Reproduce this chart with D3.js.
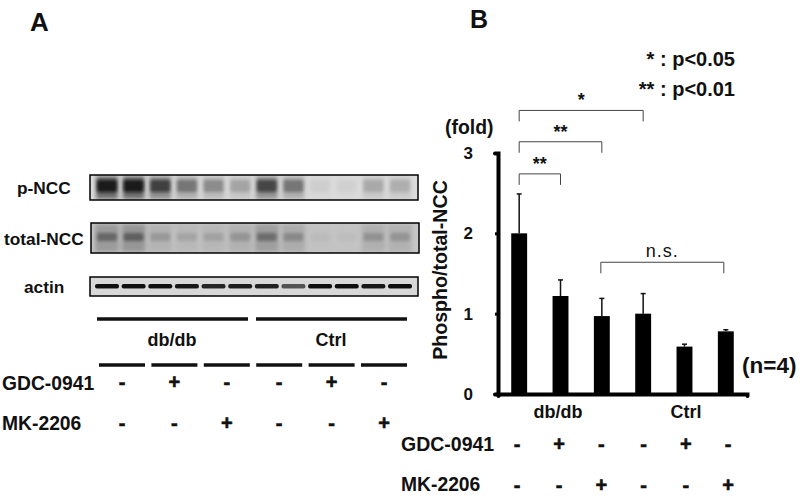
<!DOCTYPE html>
<html>
<head>
<meta charset="utf-8">
<script src="https://cdnjs.cloudflare.com/ajax/libs/d3/7.8.5/d3.min.js"></script>
<style>
  html, body { margin: 0; padding: 0; background: #fff; }
  text { font-family: "Liberation Sans", Arial, sans-serif; font-weight: bold; fill: #111; }
</style>
</head>
<body>
<div id="chart"></div>
<script>
// bar chart values
var groups = ['db1', 'db2', 'db3', 'ctrl1', 'ctrl2', 'ctrl3'];
var means = [2.0, 1.22, 0.97, 1.0, 0.59, 0.78];
var errorTops = [2.49, 1.42, 1.19, 1.25, 0.62, 0.8];
var yTicks = [0, 1, 2, 3];

// + / - rows under both panels
var gdc = ['-', '+', '-', '-', '+', '-'];
var mk = ['-', '-', '+', '-', '-', '+'];

// significance brackets: from group, to group, level, label
var bracketFrom = [0, 0, 0, 2];
var bracketTo = [1, 2, 3, 5];
var bracketLevel = [2.74, 3.14, 3.53, 1.64];
var bracketLabel = ['**', '**', '*', 'n.s.'];

// blot band darkness per lane (0-1)
var lanes = d3.range(12);
var pNcc = [1, 1, 0.7, 0.4, 0.3, 0.2, 0.66, 0.4, 0.04, 0.03, 0.18, 0.16];
var totalNcc = [0.6, 0.66, 0.26, 0.18, 0.2, 0.28, 0.55, 0.36, 0.05, 0.04, 0.3, 0.28];
var actin = [0.98, 0.98, 0.98, 0.95, 0.88, 0.92, 0.9, 0.65, 1, 1, 0.95, 1];

var svg = d3.select('#chart').append('svg')
    .attr('width', 800)
    .attr('height', 500)
    .style('display', 'block');

var defs = svg.append('defs');
[['soft', 2.2], ['mid', 1.8], ['tight', 0.6]].forEach(function(f) {
    defs.append('filter').attr('id', f[0])
        .attr('x', '-50%').attr('y', '-50%').attr('width', '200%').attr('height', '200%')
        .append('feGaussianBlur').attr('stdDeviation', f[1]);
});

function label(x, y, str, size, anchor) {
    return svg.append('text')
        .attr('x', x)
        .attr('y', y)
        .attr('font-size', size)
        .attr('text-anchor', anchor || 'start')
        .text(str);
}

label(30, 31, 'A', 26);
label(470, 28, 'B', 25);

// Panel A: blots
var laneX = d3.scalePoint().domain(lanes).range([107, 400]);

function blot(opts) {
    var clipId = 'clip' + opts.id;
    defs.append('clipPath').attr('id', clipId)
        .append('rect')
        .attr('x', opts.x).attr('y', opts.y)
        .attr('width', 328).attr('height', opts.h);

    var g = svg.append('g').attr('clip-path', 'url(#' + clipId + ')');
    g.append('rect')
        .attr('x', opts.x).attr('y', opts.y)
        .attr('width', 328).attr('height', opts.h)
        .attr('fill', opts.bg);

    // smear along the lane
    g.selectAll('.smear').data(opts.values).enter().append('rect')
        .attr('x', (d, i) => laneX(i) - opts.smearW / 2)
        .attr('y', opts.y + 1)
        .attr('width', opts.smearW)
        .attr('height', opts.h - 2)
        .attr('fill', '#444')
        .attr('opacity', d => d * opts.smearOpacity)
        .attr('filter', 'url(#soft)');

    // the band itself
    g.selectAll('.band').data(opts.values).enter().append('rect')
        .attr('x', (d, i) => laneX(i) - opts.bandW / 2)
        .attr('y', opts.bandY)
        .attr('width', opts.bandW)
        .attr('height', opts.bandH)
        .attr('rx', 2)
        .attr('fill', '#111')
        .attr('opacity', d => d * opts.bandOpacity)
        .attr('filter', 'url(#' + opts.blur + ')');

    svg.append('rect')
        .attr('x', opts.x).attr('y', opts.y)
        .attr('width', 328).attr('height', opts.h)
        .attr('fill', 'none')
        .attr('stroke', '#000')
        .attr('stroke-width', 1.5);
}

blot({ id: 'p', x: 90, y: 175, h: 25, bg: '#dcdcdc', values: pNcc, smearW: 22, smearOpacity: 0.75,
    bandY: 180, bandH: 12, bandW: 20, bandOpacity: 0.85, blur: 'mid' });
blot({ id: 't', x: 91, y: 223, h: 30, bg: '#c6c6c6', values: totalNcc, smearW: 24, smearOpacity: 0.55,
    bandY: 233, bandH: 8, bandW: 20, bandOpacity: 0.6, blur: 'mid' });
blot({ id: 'a', x: 90, y: 277, h: 19, bg: '#d8d8d8', values: actin, smearW: 0, smearOpacity: 0,
    bandY: 284, bandH: 4.5, bandW: 24, bandOpacity: 1, blur: 'tight' });

label(17, 194, 'p-NCC', 17.3);
label(4, 245, 'total-NCC', 17.3);
label(24, 293, 'actin', 17.3);

// group lines under the blots
var lineX = d3.scalePoint().domain(d3.range(6)).range([122, 384]);
svg.selectAll('.groupLine').data([[97, 248], [256, 407]]).enter().append('line')
    .attr('x1', d => d[0]).attr('x2', d => d[1])
    .attr('y1', 319).attr('y2', 319)
    .attr('stroke', '#111').attr('stroke-width', 3.5);
svg.selectAll('.laneLine').data(groups).enter().append('line')
    .attr('x1', (d, i) => lineX(i) - 23).attr('x2', (d, i) => lineX(i) + 23)
    .attr('y1', 365).attr('y2', 365)
    .attr('stroke', '#111').attr('stroke-width', 3.5);

label(172, 346, 'db/db', 18, 'middle');
label(331, 346, 'Ctrl', 18, 'middle');

function signRow(scale, values, y) {
    svg.append('g').selectAll('text').data(values).enter().append('text')
        .attr('x', (d, i) => scale(i))
        .attr('y', y)
        .attr('font-size', 20)
        .attr('text-anchor', 'middle')
        .attr('stroke', '#111')
        .attr('stroke-width', 0.6)
        .text(d => d);
}

label(2, 390, 'GDC-0941', 19.3);
label(2, 430, 'MK-2206', 19.3);
signRow(lineX, gdc, 389);
signRow(lineX, mk, 430);

// Panel B: bar chart
var x = d3.scaleBand().domain(d3.range(6)).range([498, 747]).paddingInner(0.615).paddingOuter(0.32);
var y = d3.scaleLinear().domain([0, 3]).range([394, 153]);
var xEdges = d3.scaleLinear().domain([0, 6]).range([498, 747]);
var signX = d3.scalePoint().domain(d3.range(6)).range([517, 728]);
var cx = i => x(i) + x.bandwidth() / 2;

svg.append('g').selectAll('line').data(errorTops).enter().append('line')
    .attr('x1', (d, i) => cx(i)).attr('x2', (d, i) => cx(i))
    .attr('y1', (d, i) => y(means[i])).attr('y2', d => y(d))
    .attr('stroke', '#111').attr('stroke-width', 1.5);
svg.append('g').selectAll('line').data(errorTops).enter().append('line')
    .attr('x1', (d, i) => cx(i) - 2.5).attr('x2', (d, i) => cx(i) + 2.5)
    .attr('y1', d => y(d)).attr('y2', d => y(d))
    .attr('stroke', '#111').attr('stroke-width', 1.5);

svg.append('g').selectAll('rect').data(means).enter().append('rect')
    .attr('x', (d, i) => x(i))
    .attr('y', d => y(d))
    .attr('width', x.bandwidth())
    .attr('height', d => y(0) - y(d))
    .attr('fill', '#000');

var yAxis = svg.append('g')
    .attr('transform', 'translate(498,0)')
    .call(d3.axisLeft(y).tickValues(yTicks).tickFormat(d3.format('d')).tickSize(3).tickPadding(22));
yAxis.selectAll('.domain').attr('stroke', '#000').attr('stroke-width', 4).attr('stroke-linecap', 'round');
yAxis.selectAll('.tick line').attr('stroke', '#000').attr('stroke-width', 3);
yAxis.selectAll('.tick text').attr('font-size', 17).attr('font-family', null);

var xAxis = svg.append('g')
    .attr('transform', 'translate(0,394)')
    .call(d3.axisBottom(xEdges).ticks(6).tickFormat('').tickSize(2));
xAxis.selectAll('.domain').attr('stroke', '#000').attr('stroke-width', 4).attr('stroke-linecap', 'round');
xAxis.selectAll('.tick line').attr('stroke', '#000').attr('stroke-width', 3);

// brackets
bracketLabel.forEach(function(txt, i) {
    var ns = txt === 'n.s.';
    var x0 = cx(bracketFrom[i]) + (ns ? -1 : 0);
    var x1 = cx(bracketTo[i]) - (ns ? 2 : 0);
    var top = y(bracketLevel[i]);
    svg.append('path')
        .attr('d', d3.line()([[x0, top + 11], [x0, top], [x1, top], [x1, top + 11]]))
        .attr('fill', 'none')
        .attr('stroke', '#444')
        .attr('stroke-width', 1);
    label((x0 + x1) / 2, ns ? top - 5 : top - 4, txt, 18, 'middle')
        .style('font-weight', ns ? 'normal' : 'bold')
        .style('letter-spacing', ns ? '1px' : null);
});

label(558, 418, 'db/db', 18, 'middle');
label(686, 418, 'Ctrl', 18, 'middle');
label(401, 451, 'GDC-0941', 19.5);
label(401, 491, 'MK-2206', 19.3);
signRow(signX, gdc, 451);
signRow(signX, mk, 492);

label(445, 134, '(fold)', 19.4);
label(742, 373, '(n=4)', 22.5);
label(735, 66, '* : p<0.05', 20, 'end');
label(735, 96, '** : p<0.01', 20, 'end');

svg.append('text')
    .attr('transform', 'translate(447,270) rotate(-90)')
    .attr('font-size', 19.6)
    .attr('text-anchor', 'middle')
    .text('Phospho/total-NCC');
</script>
</body>
</html>
